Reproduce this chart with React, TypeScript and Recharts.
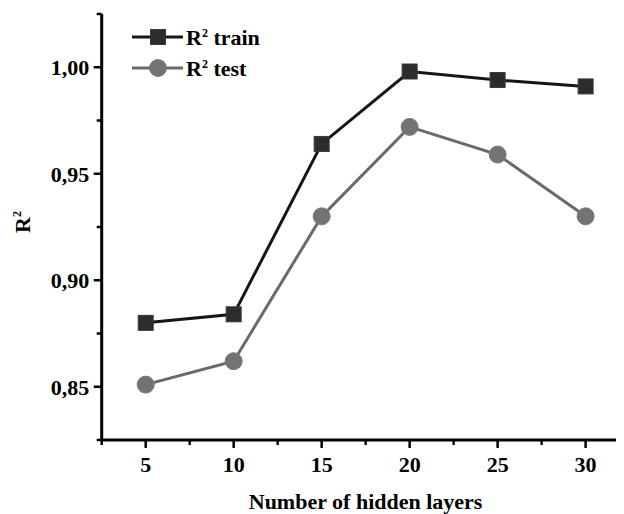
import React from "react";
import { LineChart, Line, XAxis, YAxis, Legend, Label } from "recharts";

const layers = [5, 10, 15, 20, 25, 30];
const trainR2 = [0.88, 0.884, 0.964, 0.998, 0.994, 0.991];
const testR2 = [0.851, 0.862, 0.93, 0.972, 0.959, 0.93];
const xTicks = [2.5, 5, 7.5, 10, 12.5, 15, 17.5, 20, 22.5, 25, 27.5, 30, 32.5];
const yTicks = [0.825, 0.85, 0.875, 0.9, 0.925, 0.95, 0.975, 1.0, 1.025];

const data = layers.map((l, i) => ({ layers: l, train: trainR2[i], test: testR2[i] }));

const FONT = "'Liberation Serif', 'Times New Roman', serif";
const TRAIN_LINE = "#161616";
const TRAIN_FILL = "#2c2c2c";
const TEST_LINE = "#6a6a6a";
const TEST_FILL = "#737373";

const XTick = (props: any) => {
  const { x, y, payload } = props;
  const v = payload.value as number;
  const major = Math.abs(v % 5) < 1e-9;
  return (
    <g>
      <line x1={x} x2={x} y1={y} y2={y + (major ? 8 : 5)} stroke="#000" strokeWidth={2.5} />
      {major && (
        <text x={x} y={y + 32} textAnchor="middle" fontFamily={FONT} fontWeight="bold" fontSize={22} fill="#000">
          {v}
        </text>
      )}
    </g>
  );
};

const YTick = (props: any) => {
  const { x, y, payload } = props;
  const v = payload.value as number;
  const major = Math.round(v * 1000) % 50 === 0;
  return (
    <g>
      <line x1={x - (major ? 8 : 5)} x2={x} y1={y} y2={y} stroke="#000" strokeWidth={2.5} />
      {major && (
        <text x={x - 12.5} y={y + 8} textAnchor="end" fontFamily={FONT} fontWeight="bold" fontSize={22} fill="#000">
          {v.toFixed(2).replace(".", ",")}
        </text>
      )}
    </g>
  );
};

const SquareDot = (props: any) => {
  const { cx, cy, index } = props;
  return <rect key={`sq-${index}`} x={cx - 7.5} y={cy - 7.5} width={15} height={15} fill={TRAIN_FILL} stroke="#3a3a3a" strokeWidth={1} />;
};

const CircleDot = (props: any) => {
  const { cx, cy, index } = props;
  return <circle key={`ci-${index}`} cx={cx} cy={cy} r={8.5} fill={TEST_FILL} stroke="#7a7a7a" strokeWidth={1} />;
};

const XTitle = (props: any) => {
  const vb = props.viewBox || {};
  return (
    <text x={365.6 - 8} y={vb.y + 68.5} textAnchor="middle" fontFamily={FONT} fontWeight="bold" fontSize={22} fill="#000">
      Number of hidden layers
    </text>
  );
};

const YTitle = (props: any) => {
  const vb = props.viewBox || {};
  const cx = 22;
  const cy = vb.y + vb.height / 2 - 5;
  return (
    <text x={cx} y={cy} transform={`rotate(-90 ${cx} ${cy})`} textAnchor="middle" fontFamily={FONT} fontWeight="bold" fontSize={22} fill="#000">
      <tspan>R</tspan>
      <tspan dy={-9} fontSize={12}>2</tspan>
    </text>
  );
};

const LegendContent = () => {
  const rows = [
    { label: "train", line: TRAIN_LINE, y: 29, kind: "square" },
    { label: "test", line: TEST_LINE, y: 60, kind: "circle" },
  ];
  return (
    <svg width={300} height={80} style={{ display: "block" }}>
      {rows.map((r) => (
        <g key={r.label}>
          <line x1={124} x2={175} y1={r.y} y2={r.y} stroke={r.line} strokeWidth={3} />
          {r.kind === "square" ? (
            <rect x={150 - 7.5} y={r.y - 7.5} width={15} height={15} fill={TRAIN_FILL} stroke="#3a3a3a" strokeWidth={1} />
          ) : (
            <circle cx={150} cy={r.y} r={8.5} fill={TEST_FILL} stroke="#7a7a7a" strokeWidth={1} />
          )}
          <text x={178} y={r.y + 8} fontFamily={FONT} fontWeight="bold" fontSize={22} fill="#000">
            <tspan>R</tspan>
            <tspan dy={-8} fontSize={12}>2</tspan>
            <tspan dy={8}>{" " + r.label}</tspan>
          </text>
        </g>
      ))}
    </svg>
  );
};

export default function App() {
  return (
    <div style={{ width: 616, height: 506, overflow: "hidden", position: "relative" }}>
      <LineChart width={640} height={506} data={data} margin={{ top: 6, right: 18.4, bottom: 0, left: 0 }}>
        <XAxis
          dataKey="layers"
          type="number"
          domain={[2.5, 32.5]}
          allowDataOverflow
          ticks={xTicks}
          interval={0}
          tickSize={0}
          tickMargin={0}
          tick={<XTick />}
          height={74}
          axisLine={{ stroke: "#000", strokeWidth: 3 }}
          tickLine={false}
          label={<Label content={<XTitle />} />}
        />
        <YAxis
          type="number"
          domain={[0.825, 1.025]}
          allowDataOverflow
          ticks={yTicks}
          interval={0}
          tickSize={0}
          tickMargin={0}
          tick={<YTick />}
          width={93.7}
          axisLine={{ stroke: "#000", strokeWidth: 3 }}
          tickLine={false}
          label={<Label content={<YTitle />} />}
        />
        <Legend
          layout="horizontal"
          verticalAlign="middle"
          align="center"
          content={<LegendContent />}
          wrapperStyle={{ position: "absolute", top: 0, left: 0, width: 300, height: 80 }}
        />
        <Line
          dataKey="train"
          stroke={TRAIN_LINE}
          strokeWidth={3}
          dot={SquareDot}
          activeDot={false}
          isAnimationActive={false}
        />
        <Line
          dataKey="test"
          stroke={TEST_LINE}
          strokeWidth={3}
          dot={CircleDot}
          activeDot={false}
          isAnimationActive={false}
        />
      </LineChart>
    </div>
  );
}
